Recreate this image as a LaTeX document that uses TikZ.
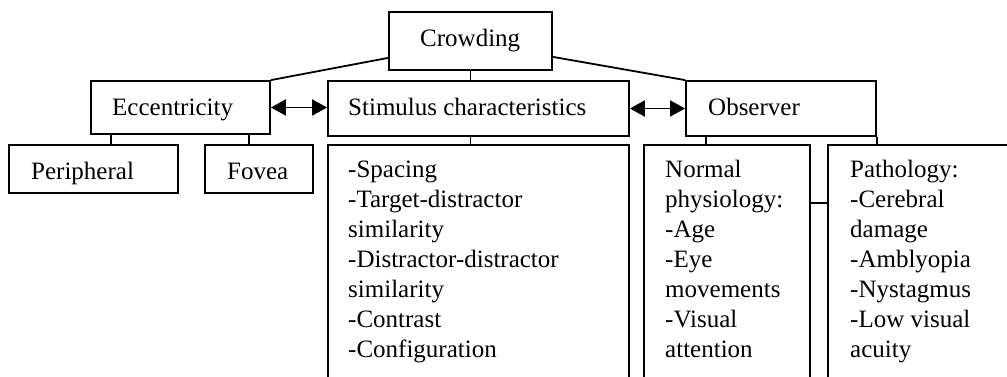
\documentclass[tikz,border=0pt]{standalone}
\usepackage{fontspec}
\setmainfont{Liberation Serif}
\usetikzlibrary{arrows.meta,calc}
\newcommand{\stacklines}[1]{\vtop{\baselineskip=30pt\lineskiplimit=0pt\halign{##\hfil\cr#1\crcr}}}
\begin{document}
\begin{tikzpicture}[x=1pt,y=-1pt,
  box/.style={draw,line width=1.8pt,inner sep=0pt},
  lbl/.style={anchor=base west,inner sep=0pt,font=\fontsize{25}{30}\selectfont},
  conn/.style={line width=1.8pt},
  biarrow/.style={line width=1.8pt,{Triangle[length=15pt,width=16pt]}-{Triangle[length=15pt,width=16pt]}}]
\clip (0,0) rectangle (1007,377);
\useasboundingbox (0,0) rectangle (1007,377);
% boxes
\node[box] (crowd) at (470.5,41) [minimum width=163pt,minimum height=58pt] {};
\node[box] (ecc) at (180.5,107.5) [minimum width=179pt,minimum height=53pt] {};
\node[box] (stim) at (478.5,108.5) [minimum width=301pt,minimum height=55pt] {};
\node[box] (obs) at (781,108.5) [minimum width=190pt,minimum height=55pt] {};
\node[box] (per) at (93.5,169) [minimum width=169pt,minimum height=48pt] {};
\node[box] (fov) at (259,169) [minimum width=108pt,minimum height=48pt] {};
\node[box] (slist) at (478.5,275) [minimum width=301pt,minimum height=260pt] {};
\node[box] (norm) at (727,275) [minimum width=166pt,minimum height=260pt] {};
\node[box] (path) at (924,275) [minimum width=192pt,minimum height=260pt] {};
% texts
\node[lbl] (tcrowd) at (420,47) {Crowding};
\node[lbl] (tecc) at (112,116) {Eccentricity};
\node[lbl] (tstim) at (348,116) {Stimulus characteristics};
\node[lbl] (tobs) at (708,116) {Observer};
\node[lbl] (tper) at (31,179) {Peripheral};
\node[lbl] (tfov) at (227,179) {Fovea};
\node[lbl] (tslist) at (348,178) {\stacklines{-Spacing\cr-Target-distractor\cr similarity\cr-Distractor-distractor\cr similarity\cr-Contrast\cr-Configuration}};
\node[lbl] (tnorm) at (665,178) {\stacklines{Normal\cr physiology:\cr-Age\cr-Eye\cr movements\cr-Visual\cr attention}};
\node[lbl] (tpath) at (850,178) {\stacklines{Pathology:\cr-Cerebral\cr damage\cr-Amblyopia\cr-Nystagmus\cr-Low visual\cr acuity}};
% connectors
\draw[conn] ([yshift=13pt]crowd.south west) -- (ecc.north east);
\draw[conn] ([yshift=14pt]crowd.south east) -- (obs.north west);
\draw[conn] (crowd.south) -- (crowd.south |- stim.north);
\draw[conn] (crowd.south |- stim.south) -- (crowd.south |- slist.north);
\draw[conn] ([xshift=21pt]ecc.south west) -- ([xshift=21pt]ecc.south west |- per.north);
\draw[conn] ([xshift=-22pt]ecc.south east) -- ([xshift=-22pt]ecc.south east |- fov.north);
\draw[conn] ([xshift=21pt]obs.south west) -- ([xshift=21pt]obs.south west |- norm.north);
\draw[conn] (obs.south east) -- (obs.south east |- path.north);
\coordinate (nm) at ([yshift=-59pt]norm.north east);
\draw[conn] (nm) -- (nm -| path.west);
\draw[biarrow] (ecc.east) -- (ecc.east -| stim.west);
\draw[biarrow] (stim.east) -- (stim.east -| obs.west);
\end{tikzpicture}
\end{document}
